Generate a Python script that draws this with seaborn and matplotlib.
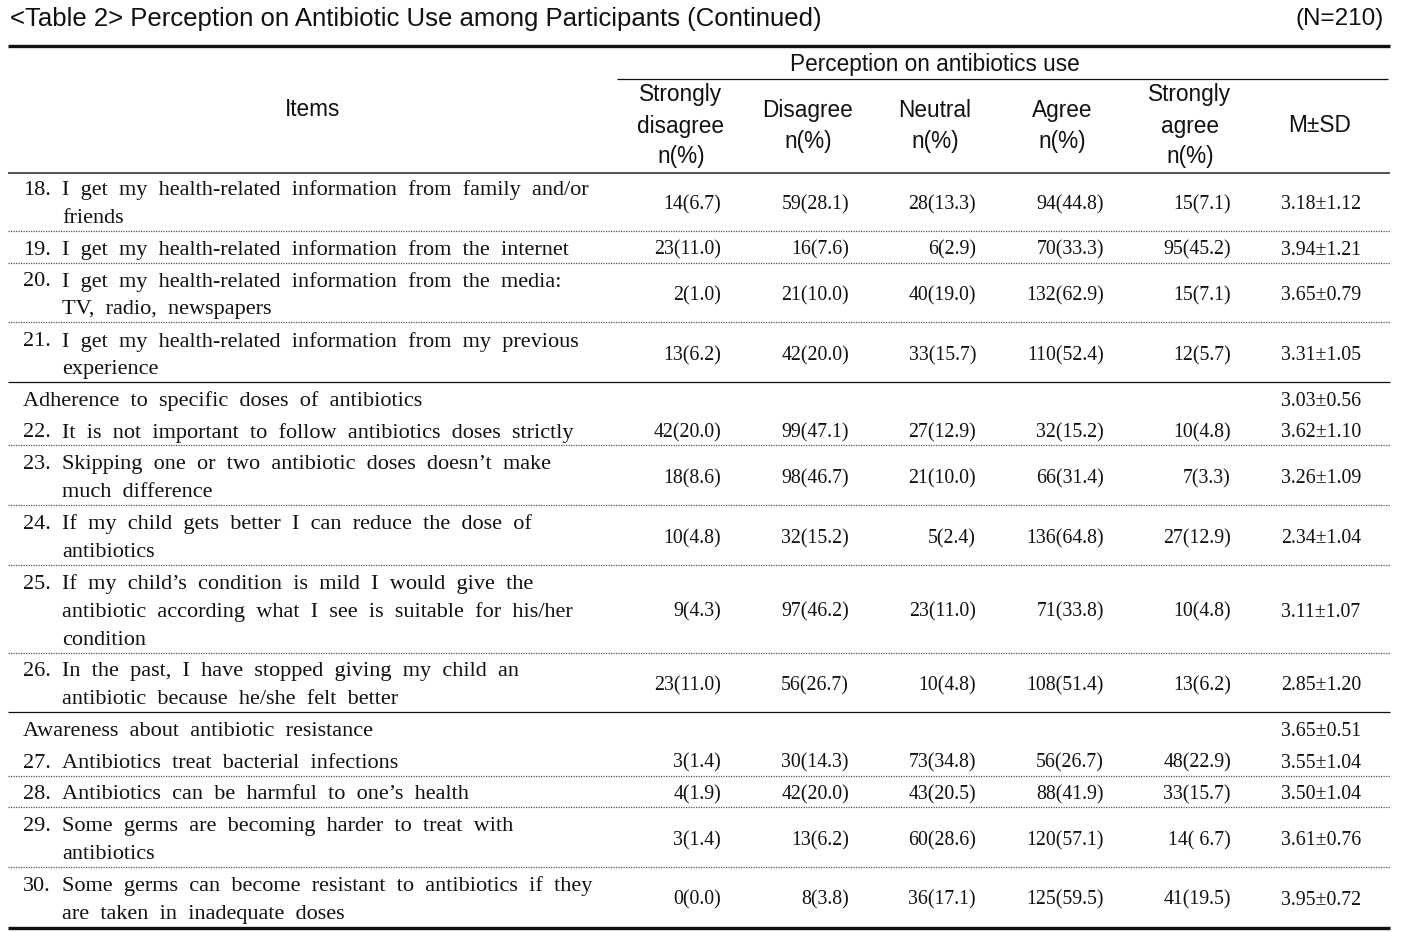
import matplotlib
matplotlib.use("Agg")
import matplotlib.pyplot as plt
import seaborn as sns

sns.set_theme(style="white")
plt.rcParams['font.family'] = ['Liberation Sans', 'DejaVu Sans']

# ---------------- data ----------------
title = "<Table 2> Perception on Antibiotic Use among Participants (Continued)"
n_label = "(N=210)"
group_header = "Perception on antibiotics use"
items_header = "Items"
col_headers = [["Strongly", "disagree", "n(%)"], ["Disagree", "n(%)"], ["Neutral", "n(%)"],
               ["Agree", "n(%)"], ["Strongly", "agree", "n(%)"], ["M\u00b1SD"]]

# row kinds: "item" or "section"
row_kind = ["item", "item", "item", "item", "section", "item", "item", "item", "item", "item",
            "section", "item", "item", "item", "item"]
row_number = ["18.", "19.", "20.", "21.", "", "22.", "23.", "24.", "25.", "26.",
              "", "27.", "28.", "29.", "30."]
row_text = [
    ["I get my health-related information from family and/or", "friends"],
    ["I get my health-related information from the internet"],
    ["I get my health-related information from the media:", "TV, radio, newspapers"],
    ["I get my health-related information from my previous", "experience"],
    ["Adherence to specific doses of antibiotics"],
    ["It is not important to follow antibiotics doses strictly"],
    ["Skipping one or two antibiotic doses doesn\u2019t make", "much difference"],
    ["If my child gets better I can reduce the dose of", "antibiotics"],
    ["If my child\u2019s condition is mild I would give the",
     "antibiotic according what I see is suitable for his/her", "condition"],
    ["In the past, I have stopped giving my child an", "antibiotic because he/she felt better"],
    ["Awareness about antibiotic resistance"],
    ["Antibiotics treat bacterial infections"],
    ["Antibiotics can be harmful to one\u2019s health"],
    ["Some germs are becoming harder to treat with", "antibiotics"],
    ["Some germs can become resistant to antibiotics if they", "are taken in inadequate doses"],
]
strongly_disagree = ["14(6.7)", "23(11.0)", "2(1.0)", "13(6.2)", "", "42(20.0)", "18(8.6)", "10(4.8)",
                     "9(4.3)", "23(11.0)", "", "3(1.4)", "4(1.9)", "3(1.4)", "0(0.0)"]
disagree = ["59(28.1)", "16(7.6)", "21(10.0)", "42(20.0)", "", "99(47.1)", "98(46.7)", "32(15.2)",
            "97(46.2)", "56(26.7)", "", "30(14.3)", "42(20.0)", "13(6.2)", "8(3.8)"]
neutral = ["28(13.3)", "6(2.9)", "40(19.0)", "33(15.7)", "", "27(12.9)", "21(10.0)", "5(2.4)",
           "23(11.0)", "10(4.8)", "", "73(34.8)", "43(20.5)", "60(28.6)", "36(17.1)"]
agree = ["94(44.8)", "70(33.3)", "132(62.9)", "110(52.4)", "", "32(15.2)", "66(31.4)", "136(64.8)",
         "71(33.8)", "108(51.4)", "", "56(26.7)", "88(41.9)", "120(57.1)", "125(59.5)"]
strongly_agree = ["15(7.1)", "95(45.2)", "15(7.1)", "12(5.7)", "", "10(4.8)", "7(3.3)", "27(12.9)",
                  "10(4.8)", "13(6.2)", "", "48(22.9)", "33(15.7)", "14( 6.7)", "41(19.5)"]
mean_sd = ["3.18\u00b11.12", "3.94\u00b11.21", "3.65\u00b10.79", "3.31\u00b11.05", "3.03\u00b10.56",
           "3.62\u00b11.10", "3.26\u00b11.09", "2.34\u00b11.04", "3.11\u00b11.07", "2.85\u00b11.20",
           "3.65\u00b10.51", "3.55\u00b11.04", "3.50\u00b11.04", "3.61\u00b10.76", "3.95\u00b10.72"]
# separator drawn below each row: dotted / solid / none / thick
row_sep = ["dot", "dot", "dot", "solid", "none", "dot", "dot", "dot", "dot", "solid",
           "none", "dot", "dot", "dot", "thick"]

# ---------------- layout ----------------
W, H = 1408, 932
fig = plt.figure(figsize=(W / 100, H / 100), dpi=100)
ax = fig.add_axes([0, 0, 1, 1])
ax.set_xlim(0, W)
ax.set_ylim(H, 0)
ax.axis("off")

SANS = ['Liberation Sans', 'DejaVu Sans']
SERIF = ['Liberation Serif', 'DejaVu Serif']
sans_size = 16.3
item_size = 16
value_size = 14.3
ink = "#111111"

ax.text(10, 19, title, fontsize=18.5, family=SANS, color=ink, ha="left", va="center")
ax.text(1384, 19, n_label, fontsize=17.5, family=SANS, color=ink, ha="right", va="center")

x0, x1 = 8, 1390
ax.hlines(46, x0, x1, color=ink, lw=2.4)
ax.text(935, 64, group_header, fontsize=sans_size, family=SANS, color=ink, ha="center", va="center")
ax.hlines(79, 617, 1388, color=ink, lw=0.9)
ax.text(313, 110, items_header, fontsize=sans_size, family=SANS, color=ink, ha="center", va="center")

col_centers = [681, 808, 935, 1062, 1190, 1320]
hdr_line = 31
for cx, lines in zip(col_centers, col_headers):
    n = len(lines)
    top = 126 - (n - 1) * hdr_line / 2
    for k, t in enumerate(lines):
        ax.text(cx, top + k * hdr_line, t, fontsize=sans_size, family=SANS, color=ink,
                ha="center", va="center")
ax.hlines(173, x0, x1, color="#222222", lw=1.1)


def wide(s):
    # the original uses generous word spacing
    return "  ".join(s.split(" "))


value_cols = [strongly_disagree, disagree, neutral, agree, strongly_agree]
value_right = [721, 849, 976, 1104, 1231]
line_h = 28
row_gap = 3.7
y = 188
VA = "center_baseline"
for i in range(len(row_kind)):
    lines = row_text[i]
    n = len(lines)
    if row_kind[i] == "section":
        ax.text(23, y, wide(lines[0]), fontsize=item_size, family=SERIF, color=ink, ha="left", va=VA)
    else:
        ax.text(23, y, row_number[i], fontsize=item_size, family=SERIF, color=ink, ha="left", va=VA)
        for k, t in enumerate(lines):
            ax.text(62, y + k * line_h, wide(t), fontsize=item_size, family=SERIF, color=ink,
                    ha="left", va=VA)
    yc = y + (n - 1) * line_h / 2
    for col, xr in zip(value_cols, value_right):
        if col[i]:
            ax.text(xr, yc, col[i], fontsize=value_size, family=SERIF, color=ink, ha="right", va=VA)
    ax.text(1321, yc, mean_sd[i], fontsize=value_size, family=SERIF, color=ink, ha="center", va=VA)
    ys = y + n * line_h - 13
    if row_sep[i] == "dot":
        ax.hlines(ys, x0, x1, color="#555555", lw=0.9, linestyles=(0, (1, 1)))
    elif row_sep[i] == "solid":
        ax.hlines(ys, x0, x1, color=ink, lw=0.9)
    elif row_sep[i] == "thick":
        ax.hlines(ys + 1, x0, x1, color=ink, lw=2.4, clip_on=False)
    y = y + n * line_h + row_gap

fig.savefig("out.png", dpi=100, facecolor="white")
